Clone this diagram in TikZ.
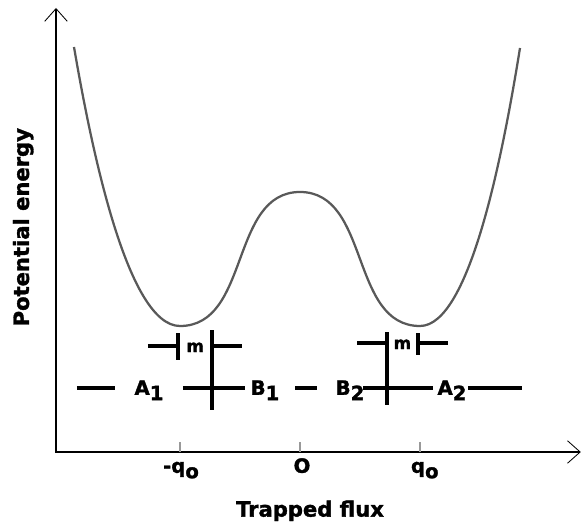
\documentclass[tikz,border=0pt]{standalone}
\usepackage{fontspec}
\setmainfont{DejaVu Sans}[BoldFeatures={FakeBold=1.5}]
\usetikzlibrary{arrows.meta}
\newcommand{\lo}[1]{\raisebox{-0.5ex}{#1}}
\begin{document}
\begin{tikzpicture}[>={Straight Barb[length=9pt,width=16pt,line width=0.6pt]},font=\bfseries,
	axis/.style={line width=1.2pt},
	level/.style={line width=2.8pt},
	well/.style={line width=1.6pt,black!65},
	big/.style={font=\bfseries\fontsize{15}{18}\selectfont},
	lbl/.style={font=\bfseries\fontsize{14}{16}\selectfont,anchor=base}]
	\useasboundingbox (-7.5,-1.8) rectangle (7.05,11.3);
	\path
	(-6.1,0) coordinate (o)
	(-6.1,11.1) coordinate (ytop)
	(7.02,0) coordinate (xend);
	\draw[axis,<->] (ytop)--(o)--(xend);
	\foreach \x in {-3,0,3}{
		\draw[line width=1.2pt,black!40] (\x,0)--(\x,0.25);
	}
	\node[lbl] (mq) at (-2.975,-0.52) {-q\lo{o}};
	\node[lbl] (zero) at (0.05,-0.52) {O};
	\node[lbl] (pq) at (3.12,-0.52) {q\lo{o}};
	\node[big] (xlab) at (0.25,-1.47) {Trapped flux};
	\node[big,rotate=90] (ylab) at (-6.92,5.62) {Potential energy};
	\draw[well] (-5.65,10.125) .. controls (-5.2,7.5) and (-4.3,3.15) .. (-3,3.15)
	.. controls (-1.24,3.15) and (-1.76,6.5) .. (0,6.5)
	.. controls (1.76,6.5) and (1.24,3.15) .. (3,3.15)
	.. controls (4.25,3.15) and (5.08,7.5) .. (5.5,10.1);
	\path
	(-5.575,1.6) coordinate (p1) (-4.625,1.6) coordinate (p2)
	(-2.925,1.6) coordinate (p3) (-1.375,1.6) coordinate (p4)
	(-0.125,1.6) coordinate (p5) (0.425,1.6) coordinate (p6)
	(1.575,1.6) coordinate (p7) (3.325,1.6) coordinate (p8)
	(4.2,1.6) coordinate (p9) (5.55,1.6) coordinate (p10);
	\foreach \i/\j in {p1/p2,p3/p4,p5/p6,p7/p8,p9/p10}{
		\draw[level] (\i)--(\j);
	}
	\node[lbl] (A1) at (-3.775,1.43) {A\lo{1}};
	\node[lbl] (B1) at (-0.875,1.43) {B\lo{1}};
	\node[lbl] (B2) at (1.25,1.43) {B\lo{2}};
	\node[lbl] (A2) at (3.8,1.43) {A\lo{2}};
	\path
	(-2.2,3.05) coordinate (lt) (-2.2,1.05) coordinate (lb)
	(-3.05,2.975) coordinate (ls) (-3.05,2.3) coordinate (lse)
	(-3.8,2.65) coordinate (lh1) (-3.05,2.65) coordinate (lh2)
	(-2.2,2.65) coordinate (lh3) (-1.45,2.65) coordinate (lh4)
	(2.175,3.0) coordinate (rt) (2.175,1.175) coordinate (rb)
	(2.95,2.975) coordinate (rs) (2.95,2.425) coordinate (rse)
	(1.425,2.725) coordinate (rh1) (2.175,2.725) coordinate (rh2)
	(2.95,2.725) coordinate (rh3) (3.7,2.725) coordinate (rh4);
	\foreach \i/\j in {lt/lb,ls/lse,lh1/lh2,lh3/lh4,rt/rb,rs/rse,rh1/rh2,rh3/rh4}{
		\draw[level] (\i)--(\j);
	}
	\node[lbl,font=\bfseries\fontsize{12}{14}\selectfont] (ml) at (-2.62,2.5) {m};
	\node[lbl,font=\bfseries\fontsize{12}{14}\selectfont] (mr) at (2.56,2.575) {m};
\end{tikzpicture}
\end{document}
